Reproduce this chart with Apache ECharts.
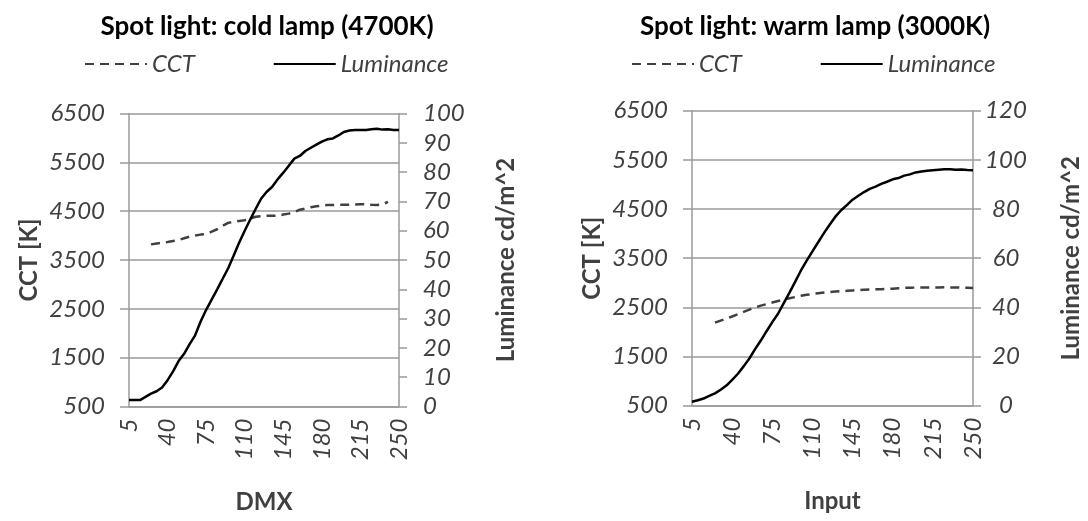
<!DOCTYPE html>
<html>
<head>
<meta charset="utf-8">
<script src="https://cdn.jsdelivr.net/npm/echarts@6/dist/echarts.min.js"></script>
<style>
  html, body { margin: 0; padding: 0; background: #fff; }
  #chart { width: 1088px; height: 521px; }
</style>
</head>
<body>
<div id="chart"></div>
<script>
// Input / DMX levels (step 5)
const levels = [5, 10, 15, 20, 25, 30, 35, 40, 45, 50,
  55, 60, 65, 70, 75, 80, 85, 90, 95, 100,
  105, 110, 115, 120, 125, 130, 135, 140, 145, 150,
  155, 160, 165, 170, 175, 180, 185, 190, 195, 200,
  205, 210, 215, 220, 225, 230, 235, 240, 245, 250];

// Cold lamp (4700K): correlated colour temperature [K]
const coldCCT = [null, null, null, null, 3820, 3840, 3855, 3870, 3890, 3910,
  3945, 3980, 4000, 4020, 4035, 4080, 4130, 4200, 4260, 4280,
  4300, 4315, 4350, 4385, 4400, 4405, 4405, 4410, 4430, 4450,
  4480, 4530, 4555, 4580, 4600, 4615, 4625, 4625, 4630, 4630,
  4630, 4635, 4640, 4640, 4630, 4625, 4640, 4690, null, null];

// Cold lamp (4700K): luminance [cd/m^2]
const coldLum = [2.2, 2.2, 2.2, 3.3, 4.4, 5.2, 6.5, 9.0, 12.0, 15.5,
  18.0, 21.3, 24.3, 29.0, 33.0, 36.5, 40.0, 43.6, 47.2, 51.5,
  56.0, 60.0, 63.8, 67.5, 71.0, 73.3, 75.0, 77.6, 79.8, 82.2,
  84.6, 85.5, 87.2, 88.3, 89.4, 90.4, 91.2, 91.5, 92.5, 93.7,
  94.2, 94.4, 94.4, 94.4, 94.6, 94.8, 94.5, 94.6, 94.4, 94.4];

// Warm lamp (3000K): correlated colour temperature [K]
const warmCCT = [null, null, null, null, 2190, 2230, 2270, 2315, 2360, 2410,
  2455, 2495, 2535, 2565, 2600, 2630, 2660, 2685, 2710, 2735,
  2755, 2772, 2788, 2800, 2812, 2822, 2830, 2837, 2845, 2852,
  2858, 2862, 2866, 2870, 2875, 2880, 2890, 2898, 2900, 2902,
  2905, 2905, 2906, 2906, 2907, 2905, 2905, 2900, 2898, 2895];

// Warm lamp (3000K): luminance [cd/m^2]
const warmLum = [1.6, 2.2, 2.9, 4.0, 5.0, 6.5, 8.2, 10.5, 13.0, 16.0,
  19.2, 23.0, 26.5, 30.3, 34.0, 37.4, 41.7, 46.0, 50.5, 55.0,
  59.0, 62.8, 66.5, 70.2, 73.6, 76.9, 79.5, 81.6, 83.8, 85.4,
  86.9, 88.2, 89.1, 90.2, 91.1, 92.1, 92.6, 93.6, 94.1, 94.9,
  95.3, 95.6, 95.8, 96.0, 96.2, 96.2, 96.0, 96.1, 95.9, 95.8];

const titles = ['Spot light: cold lamp (4700K)', 'Spot light: warm lamp (3000K)'];
const xNames = ['DMX', 'Input'];
const lumMax = [100, 120];
const lumStep = [10, 20];

const FONT = 'Lato, "Open Sans", sans-serif';
const GREY = '#9a9a9a';
const TEXT = '#404040';

const grids = [
  { left: 129, top: 113.5, width: 270, height: 293 },
  { left: 692, top: 110.7, width: 281, height: 295 }
];

const plain = v => String(v);
const tickLabel = { fontFamily: FONT, fontStyle: 'italic', fontSize: 24, color: TEXT, formatter: plain };
const axisName = { fontFamily: FONT, fontWeight: 'bold', fontSize: 24, color: TEXT };

// the right-hand luminance scale of each panel
const lumLabel = [
  { margin: 24, align: 'left' },
  { margin: 33, align: 'center' }
];
const lumNameGap = [95, 86];

const xAxes = grids.map((g, i) => ({
  type: 'category', gridIndex: i, data: levels, boundaryGap: false,
  axisLine: { lineStyle: { color: GREY, width: 1.5 } },
  axisTick: { show: false },
  axisLabel: Object.assign({}, tickLabel, { interval: 6, rotate: 90, margin: 12 }),
  splitLine: { show: false },
  name: xNames[i], nameLocation: 'middle', nameGap: 84, nameTextStyle: axisName
}));

const yAxes = [];
grids.forEach((g, i) => {
  yAxes.push({
    type: 'value', gridIndex: i, position: 'left', min: 500, max: 6500, interval: 1000,
    axisLine: { show: true, lineStyle: { color: GREY, width: 1.5 } },
    axisTick: { show: true, inside: false, length: 9, lineStyle: { color: GREY, width: 1.5 } },
    axisLabel: Object.assign({}, tickLabel, { margin: 24 }),
    splitLine: { show: true, lineStyle: { color: GREY, width: 1.5 } },
    name: 'CCT [K]', nameLocation: 'middle', nameRotate: 90, nameGap: 88,
    nameTextStyle: axisName
  });
  yAxes.push({
    type: 'value', gridIndex: i, position: 'right', min: 0, max: lumMax[i], interval: lumStep[i],
    axisLine: { show: true, lineStyle: { color: GREY, width: 1.5 } },
    axisTick: { show: true, inside: false, length: 8, lineStyle: { color: GREY, width: 1.5 } },
    axisLabel: Object.assign({}, tickLabel, lumLabel[i]),
    splitLine: { show: false },
    name: 'Luminance cd/m^2', nameLocation: 'middle', nameRotate: 90, nameGap: lumNameGap[i],
    nameMoveOverlap: false,
    nameTextStyle: axisName
  });
});

const cctStyle = { color: '#404040', width: 2.5, type: [9, 6] };
const lumStyle = { color: '#000000', width: 2.5, type: 'solid' };

function lineSeries(name, data, xi, yi, style) {
  return {
    name: name, type: 'line', xAxisIndex: xi, yAxisIndex: yi, data: data,
    symbol: 'none', showSymbol: false, connectNulls: false,
    lineStyle: style, itemStyle: { color: style.color }, animation: false
  };
}

function legendAt(left) {
  return {
    left: left, top: 47, itemWidth: 62, itemHeight: 14, itemGap: 78,
    data: ['CCT', 'Luminance'],
    itemStyle: { opacity: 0 },
    textStyle: { fontFamily: FONT, fontStyle: 'italic', fontSize: 24, color: TEXT }
  };
}

const titleStyle = { fontFamily: FONT, fontWeight: 'bold', fontSize: 26, color: '#000' };

const option = {
  animation: false,
  backgroundColor: '#ffffff',
  title: [
    { text: titles[0], left: 262, top: 9, textAlign: 'center', textStyle: titleStyle },
    { text: titles[1], left: 810, top: 9, textAlign: 'center', textStyle: titleStyle }
  ],
  legend: [legendAt(79), legendAt(626)],
  grid: grids,
  xAxis: xAxes,
  yAxis: yAxes,
  series: [
    lineSeries('CCT', coldCCT, 0, 0, cctStyle),
    lineSeries('Luminance', coldLum, 0, 1, lumStyle),
    lineSeries('CCT', warmCCT, 1, 2, cctStyle),
    lineSeries('Luminance', warmLum, 1, 3, lumStyle)
  ]
};

const chart = echarts.init(document.getElementById('chart'), null, { renderer: 'canvas' });
chart.setOption(option);
</script>
</body>
</html>
